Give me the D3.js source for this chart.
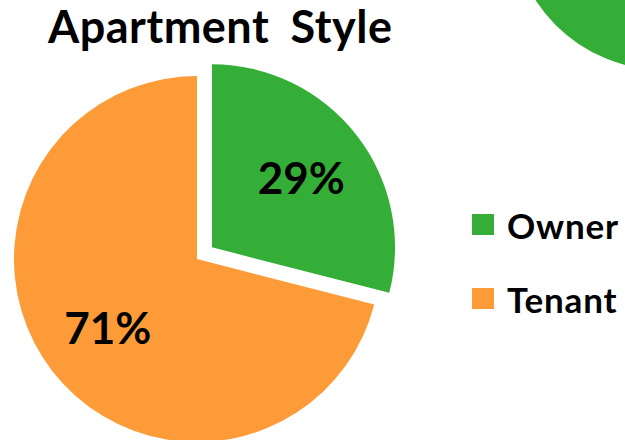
<!DOCTYPE html>
<html>
<head>
<meta charset="utf-8">
<script src="https://cdn.jsdelivr.net/npm/d3@7"></script>
<style>
  html, body { margin: 0; padding: 0; background: #fff; }
  svg { display: block; font-family: Lato, "Open Sans", sans-serif; font-weight: bold; }
</style>
</head>
<body>
<div id="chart"></div>
<script>
// Chart data
const title = "Apartment Style";
const categories = ["Owner", "Tenant"];
const shares = [29, 71];
const colors = ["#34ae37", "#fd9b38"];

const width = 625, height = 440;

const svg = d3.select("#chart")
    .append("svg")
    .attr("width", width)
    .attr("height", height);

// Partial green pie from the neighbouring chart, cut off at the top right
svg.append("path")
    .attr("transform", "translate(664,-83)")
    .attr("fill", colors[0])
    .attr("d", d3.arc().innerRadius(0).outerRadius(153)({startAngle: 0, endAngle: 2 * Math.PI}));

// Title
svg.append("text")
    .attr("x", 48)
    .attr("y", 43)
    .attr("font-size", 45)
    .attr("letter-spacing", 0.5)
    .attr("word-spacing", 10)
    .attr("fill", "#000")
    .text(title);

// Pie
const radius = 183;
const explode = 19;
const center = {x: 197, y: 259};

const color = d3.scaleOrdinal().domain(categories).range(colors);

const pie = d3.pie()
    .sort(null)
    .value(d => d.value);

const data = categories.map((c, i) => ({name: c, value: shares[i]}));
const arcs = pie(data);

const arc = d3.arc().innerRadius(0).outerRadius(radius);
const labelArc = d3.arc().innerRadius(113).outerRadius(113);

const g = svg.append("g")
    .attr("transform", `translate(${center.x},${center.y})`);

const slice = g.selectAll(".slice")
    .data(arcs)
    .join("g")
    .attr("class", "slice")
    .attr("transform", d => {
        if (d.data.name !== "Owner") return null;
        const mid = (d.startAngle + d.endAngle) / 2;
        return `translate(${explode * Math.sin(mid)},${-explode * Math.cos(mid)})`;
    });

slice.append("path")
    .attr("d", arc)
    .attr("fill", d => color(d.data.name));

slice.append("text")
    .attr("transform", d => `translate(${labelArc.centroid(d)})`)
    .attr("text-anchor", "middle")
    .attr("dy", "0.36em")
    .attr("font-size", 44)
    .attr("fill", "#000")
    .text(d => d.data.value + "%");

// Legend
const ly = d3.scalePoint().domain(categories).range([224, 298]);

const legend = svg.selectAll(".legend")
    .data(categories)
    .join("g")
    .attr("class", "legend")
    .attr("transform", d => `translate(472,${ly(d)})`);

legend.append("rect")
    .attr("x", 0)
    .attr("y", -10)
    .attr("width", 22)
    .attr("height", 21)
    .attr("fill", d => color(d));

legend.append("text")
    .attr("x", 35)
    .attr("y", 15)
    .attr("font-size", 35)
    .attr("letter-spacing", 0.8)
    .attr("fill", "#000")
    .text(d => d);
</script>
</body>
</html>
